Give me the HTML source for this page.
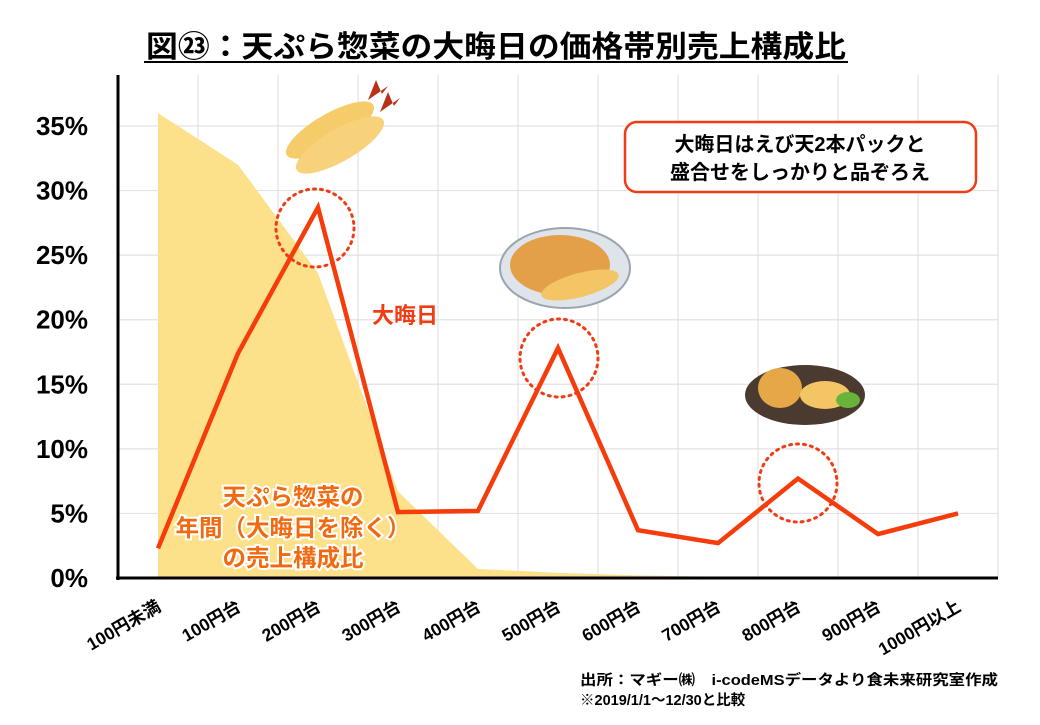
<!DOCTYPE html>
<html><head><meta charset="utf-8"><style>
body{margin:0;background:#fff;width:1040px;height:720px;overflow:hidden;font-family:"Liberation Sans","Noto Sans CJK JP",sans-serif;}
</style></head><body>
<svg id="chart" width="1040" height="720" xmlns="http://www.w3.org/2000/svg" font-family="Liberation Sans, Noto Sans CJK JP, sans-serif">
<text x="496" y="57" text-anchor="middle" font-size="30" font-weight="bold" fill="#000" textLength="700" lengthAdjust="spacingAndGlyphs">図㉓：天ぷら惣菜の大晦日の価格帯別売上構成比</text>
<line x1="144" y1="62" x2="848" y2="62" stroke="#000" stroke-width="2"/>
<g id="grid"></g><g id="area"></g><g id="line"></g><g id="axes"></g>
<g>
<ellipse cx="330" cy="130" rx="50" ry="16" transform="rotate(-30 330 130)" fill="#f6cb6a"/>
<ellipse cx="340" cy="145" rx="50" ry="16" transform="rotate(-30 340 145)" fill="#f8d27a"/>
<path d="M368 100 l8 -20 l6 14 l6 -8 z M380 112 l8 -20 l6 14 l6 -8 z" fill="#b8321a"/>
</g>
<g>
<ellipse cx="565" cy="268" rx="65" ry="40" fill="#dfe4ea" stroke="#9aa4ae" stroke-width="2"/>
<ellipse cx="560" cy="265" rx="50" ry="30" fill="#e3a048"/>
<ellipse cx="580" cy="285" rx="40" ry="12" transform="rotate(-15 580 285)" fill="#f3c565"/>
</g>
<g>
<ellipse cx="805" cy="395" rx="60" ry="30" fill="#4a3a30"/>
<ellipse cx="780" cy="388" rx="22" ry="20" fill="#e6a847"/>
<ellipse cx="825" cy="395" rx="25" ry="14" fill="#f3c565"/>
<ellipse cx="848" cy="400" rx="12" ry="8" fill="#6ab33a"/>
</g>
<circle cx="315" cy="228" r="39" fill="none" stroke="#f03c14" stroke-width="3" stroke-dasharray="2 5" stroke-linecap="round"/>
<circle cx="559" cy="358" r="39" fill="none" stroke="#f03c14" stroke-width="3" stroke-dasharray="2 5" stroke-linecap="round"/>
<circle cx="798" cy="483" r="39" fill="none" stroke="#f03c14" stroke-width="3" stroke-dasharray="2 5" stroke-linecap="round"/>
<text x="372" y="323" font-size="22" font-weight="bold" fill="#f03c14">大晦日</text>
<g font-size="23.5" font-weight="bold" fill="#f26a10" text-anchor="middle" stroke="#fff" stroke-width="4" paint-order="stroke">
<text x="293" y="505">天ぷら惣菜の</text>
<text x="293" y="536">年間（大晦日を除く）</text>
<text x="293" y="566">の売上構成比</text>
</g>
<g>
<rect x="625" y="122" width="351" height="70" rx="12" fill="#fff" stroke="#f03c14" stroke-width="2.5"/>
<text x="800" y="151" text-anchor="middle" font-size="20" font-weight="bold" fill="#000">大晦日はえび天2本パックと</text>
<text x="800" y="179" text-anchor="middle" font-size="20" font-weight="bold" fill="#000">盛合せをしっかりと品ぞろえ</text>
</g>
<text x="580" y="685" font-size="14.5" font-weight="bold" fill="#000" textLength="418" lengthAdjust="spacingAndGlyphs">出所：マギー㈱　i-codeMSデータより食未来研究室作成</text>
<text x="580" y="705" font-size="14.5" font-weight="bold" fill="#000">※2019/1/1～12/30と比較</text>
</svg>
<script>
const categories=["100円未満","100円台","200円台","300円台","400円台","500円台","600円台","700円台","800円台","900円台","1000円以上"];
const oomisokaValues=[2.3,17.4,28.7,5.1,5.2,17.8,3.7,2.7,7.7,3.4,5.0];
const annualValues=[36,32,23.6,6.7,0.7,0.4,0.2,0.1,0,0,0];
const yTicks=[0,5,10,15,20,25,30,35];
const NS="http://www.w3.org/2000/svg";
const x0=158,dx=80,y0=578,yTop=126,yMaxV=35;
const xS=i=>x0+i*dx;
const yS=v=>y0-(v/yMaxV)*(y0-yTop);
function mk(t,a,p){const e=document.createElementNS(NS,t);for(const k in a)e.setAttribute(k,a[k]);p.appendChild(e);return e;}
const grid=document.getElementById('grid');
yTicks.forEach(v=>{if(v>0){const l=mk('line',{x1:118,x2:998,y1:yS(v),y2:yS(v),stroke:'#e2e2e2','stroke-width':1.2},grid);

}});
for(let i=0;i<11;i++){const l=mk('line',{x1:xS(i)+40,x2:xS(i)+40,y1:75,y2:578,stroke:'#e2e2e2','stroke-width':1.2},grid);

}
const area=document.getElementById('area');
let d=`M${xS(0)},${y0}`;annualValues.forEach((v,i)=>d+=` L${xS(i)},${yS(v)}`);d+=` L${xS(annualValues.length-1)},${y0} Z`;
const ar=mk('path',{d:d,fill:'#fde08a'},area);


const lg=document.getElementById('line');
const pl=mk('polyline',{points:oomisokaValues.map((v,i)=>xS(i)+','+yS(v)).join(' '),fill:'none',stroke:'#f53c0a','stroke-width':4.5,'stroke-linejoin':'miter'},lg);


const ax=document.getElementById('axes');
const ya=mk('line',{x1:118,x2:118,y1:75,y2:580,stroke:'#000','stroke-width':3},ax);


const xa=mk('line',{x1:116,x2:998,y1:578,y2:578,stroke:'#000','stroke-width':3},ax);


yTicks.forEach(v=>{const t=mk('text',{x:88,y:yS(v)+9,'text-anchor':'end','font-size':26,'font-weight':'bold',fill:'#000'},ax);t.textContent=v+'%';

});
categories.forEach((c,i)=>{const x=xS(i)+4,y=610;const t=mk('text',{x:x,y:y,'text-anchor':'end','font-size':17.5,'font-weight':'bold',fill:'#000',transform:`rotate(-30 ${x} ${y})`},ax);t.textContent=c;

});
</script>
</body></html>
